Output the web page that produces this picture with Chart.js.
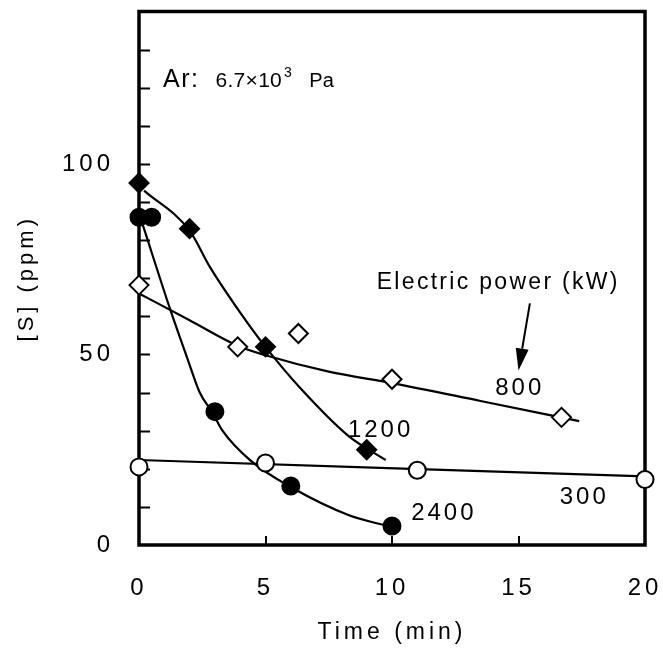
<!DOCTYPE html>
<html>
<head>
<meta charset="utf-8">
<script src="https://cdn.jsdelivr.net/npm/chart.js@4.4.1/dist/chart.umd.min.js"></script>
<style>
  html, body { margin: 0; padding: 0; background: #fff; }
  #c { display: block; }
</style>
</head>
<body>
<canvas id="c" width="663" height="650"></canvas>
<script>
// Measured sulfur content [S] (ppm) against time (min), one set per electric power (kW)
const time300 = [0, 5, 11, 20];
const sulfur300 = [20.5, 21.5, 19.6, 17.2];
const time800 = [0, 3.9, 6.3, 10, 16.7];
const sulfur800 = [68.2, 52, 55.5, 43.5, 33.5];
const time1200 = [0, 2, 5, 9];
const sulfur1200 = [95, 83, 52, 25];
const time2400 = [0, 0.5, 3, 6, 10];
const sulfur2400 = [86, 86, 35, 15.5, 5];

// Smoothed trend curves through each set
const fitTime300 = [0, 20];
const fitSulfur300 = [22.3, 18];
const fitTime800 = [0, 2, 3.9, 5, 7.5, 10, 13.5, 17.4];
const fitSulfur800 = [66, 59, 52.3, 49.8, 45.5, 42.5, 37.8, 32.5];
const fitTime1200 = [0.2, 2, 2.8, 4, 5, 6.4, 8.3, 9.75];
const fitSulfur1200 = [93, 82.5, 73, 61, 52, 41, 28.5, 22.3];
const fitTime2400 = [0.15, 1.25, 1.9, 2.4, 2.9, 3.3, 4.4, 6, 8.3, 10];
const fitSulfur2400 = [84, 61.5, 49.2, 40, 34.8, 30, 22.2, 15.2, 7.8, 4.7];

// Axis tick values
const xTickValues = [0, 5, 10, 15, 20];
const yLabelValues = [0, 50, 100];
const yMinorValues = [10, 20, 30, 40, 50, 60, 70, 80, 90, 100, 110, 120, 130];
const xMinorValues = [5, 10, 15];

const FONT = "'Liberation Sans', Arial, sans-serif";

function pairs(xs, ys) { return xs.map((x, i) => ({ x: x, y: ys[i] })); }

function markerSet(label, xs, ys, shape, filled) {
  return {
    label: label,
    data: pairs(xs, ys),
    showLine: false,
    pointStyle: shape,
    pointRadius: shape === 'circle' ? 8.5 : 9.5,
    pointBackgroundColor: filled ? '#000' : '#fff',
    pointBorderColor: '#000',
    pointBorderWidth: 2,
    clip: false,
    order: 0
  };
}

function curveSet(label, xs, ys) {
  return {
    label: label,
    data: pairs(xs, ys),
    showLine: true,
    borderColor: '#000',
    borderWidth: 2.2,
    pointRadius: 0,
    cubicInterpolationMode: 'monotone',
    fill: false,
    clip: false,
    order: 1
  };
}

// Frame, inward tick marks and text annotations
const decor = {
  id: 'decor',
  beforeDraw(chart) {
    chart.ctx.letterSpacing = '4px';
  },
  beforeDatasetsDraw(chart) {
    const { ctx, chartArea: a, scales: { x, y } } = chart;
    ctx.save();
    ctx.strokeStyle = '#000';
    ctx.lineWidth = 2;
    yMinorValues.forEach(v => {
      const py = Math.round(y.getPixelForValue(v)) + 0.5;
      ctx.beginPath(); ctx.moveTo(a.left, py); ctx.lineTo(a.left + 11, py); ctx.stroke();
    });
    xMinorValues.forEach(v => {
      const px = Math.round(x.getPixelForValue(v));
      ctx.beginPath(); ctx.moveTo(px, a.bottom); ctx.lineTo(px, a.bottom - 9); ctx.stroke();
    });
    ctx.lineWidth = 3.5;
    ctx.strokeRect(a.left, a.top, a.right - a.left, a.bottom - a.top);
    ctx.restore();
  },
  afterDatasetsDraw(chart, args, opts) {
    const { ctx, scales: { x, y } } = chart;
    ctx.save();
    ctx.fillStyle = '#000';
    ctx.strokeStyle = '#000';
    ctx.textBaseline = 'middle';
    ctx.textAlign = 'center';

    opts.labels.forEach(l => {
      ctx.font = l.size + 'px ' + FONT;
      ctx.letterSpacing = l.spacing + 'px';
      ctx.fillText(l.text, x.getPixelForValue(l.x), y.getPixelForValue(l.y));
    });

    // gas pressure note: Ar: 6.7×10³ Pa
    const n = opts.note;
    let px = x.getPixelForValue(n.x);
    const py = y.getPixelForValue(n.y);
    ctx.textAlign = 'left';
    ctx.textBaseline = 'alphabetic';
    ctx.letterSpacing = '1.5px';
    ctx.font = '25px ' + FONT;
    ctx.fillText('Ar:', px, py);
    px += ctx.measureText('Ar:').width + 16;
    ctx.font = '21px ' + FONT;
    ctx.letterSpacing = '0.3px';
    ctx.fillText('6.7×10', px, py);
    px += ctx.measureText('6.7×10').width + 2;
    ctx.font = '14px ' + FONT;
    ctx.fillText('3', px, py - 10);
    px += ctx.measureText('3').width + 17;
    ctx.font = '20px ' + FONT;
    ctx.fillText('Pa', px, py);

    // arrow from the legend note down to the 800 kW curve
    const ar = opts.arrow;
    const x0 = x.getPixelForValue(ar.x0), y0 = y.getPixelForValue(ar.y0);
    const x1 = x.getPixelForValue(ar.x1), y1 = y.getPixelForValue(ar.y1);
    const ang = Math.atan2(y1 - y0, x1 - x0);
    const headLen = 22, headHalf = 6.5;
    const bx = x1 - headLen * Math.cos(ang), by = y1 - headLen * Math.sin(ang);
    ctx.lineWidth = 2;
    ctx.beginPath(); ctx.moveTo(x0, y0); ctx.lineTo(bx, by); ctx.stroke();
    ctx.beginPath();
    ctx.moveTo(x1, y1);
    ctx.lineTo(bx + headHalf * Math.sin(ang), by - headHalf * Math.cos(ang));
    ctx.lineTo(bx - headHalf * Math.sin(ang), by + headHalf * Math.cos(ang));
    ctx.closePath();
    ctx.fill();
    ctx.restore();
  }
};

new Chart(document.getElementById('c'), {
  type: 'scatter',
  data: {
    datasets: [
      curveSet('fit 300', fitTime300, fitSulfur300),
      curveSet('fit 800', fitTime800, fitSulfur800),
      curveSet('fit 1200', fitTime1200, fitSulfur1200),
      curveSet('fit 2400', fitTime2400, fitSulfur2400),
      markerSet('300 kW', time300, sulfur300, 'circle', false),
      markerSet('800 kW', time800, sulfur800, 'rectRot', false),
      markerSet('1200 kW', time1200, sulfur1200, 'rectRot', true),
      markerSet('2400 kW', time2400, sulfur2400, 'circle', true)
    ]
  },
  options: {
    responsive: false,
    animation: false,
    devicePixelRatio: 1,
    layout: { padding: { top: 10, right: 18, left: 0, bottom: 0 } },
    plugins: {
      legend: { display: false },
      tooltip: { enabled: false },
      decor: {
        labels: [
          { text: 'Electric power (kW)', x: 14.2, y: 68.8, size: 23, spacing: 2.3 },
          { text: '800', x: 15.05, y: 41.1, size: 24, spacing: 3 },
          { text: '1200', x: 9.55, y: 30.1, size: 24, spacing: 3 },
          { text: '300', x: 17.6, y: 12.6, size: 24, spacing: 3 },
          { text: '2400', x: 12.05, y: 8.4, size: 24, spacing: 3 }
        ],
        note: { x: 0.95, y: 120.3 },
        arrow: { x0: 15.45, y0: 63.4, x1: 15.0, y1: 45.8 }
      }
    },
    scales: {
      x: {
        type: 'linear',
        min: 0,
        max: 20,
        afterFit(s) { s.height = 105; s.paddingLeft = 0; s.paddingRight = 0; s.paddingTop = 0; s.paddingBottom = 0; },
        afterBuildTicks(s) { s.ticks = xTickValues.map(v => ({ value: v })); },
        grid: { display: false, drawTicks: false },
        border: { display: false },
        ticks: { padding: 29, color: '#000', font: { family: FONT, size: 24 }, maxRotation: 0, autoSkip: false },
        title: { display: true, text: 'Time (min)', color: '#000', font: { family: FONT, size: 23 }, padding: { top: 0, bottom: 4 } }
      },
      y: {
        type: 'linear',
        min: 0,
        max: 140,
        afterFit(s) { s.width = 139; s.paddingLeft = 0; s.paddingRight = 0; s.paddingTop = 0; s.paddingBottom = 0; },
        afterBuildTicks(s) { s.ticks = yLabelValues.map(v => ({ value: v })); },
        grid: { display: false, drawTicks: false },
        border: { display: false },
        ticks: { padding: 25, color: '#000', font: { family: FONT, size: 24 }, autoSkip: false },
        title: { display: true, text: '[S] (ppm)', color: '#000', font: { family: FONT, size: 22 }, padding: { top: 14, bottom: 0 } }
      }
    }
  },
  plugins: [decor]
});
</script>
</body>
</html>
